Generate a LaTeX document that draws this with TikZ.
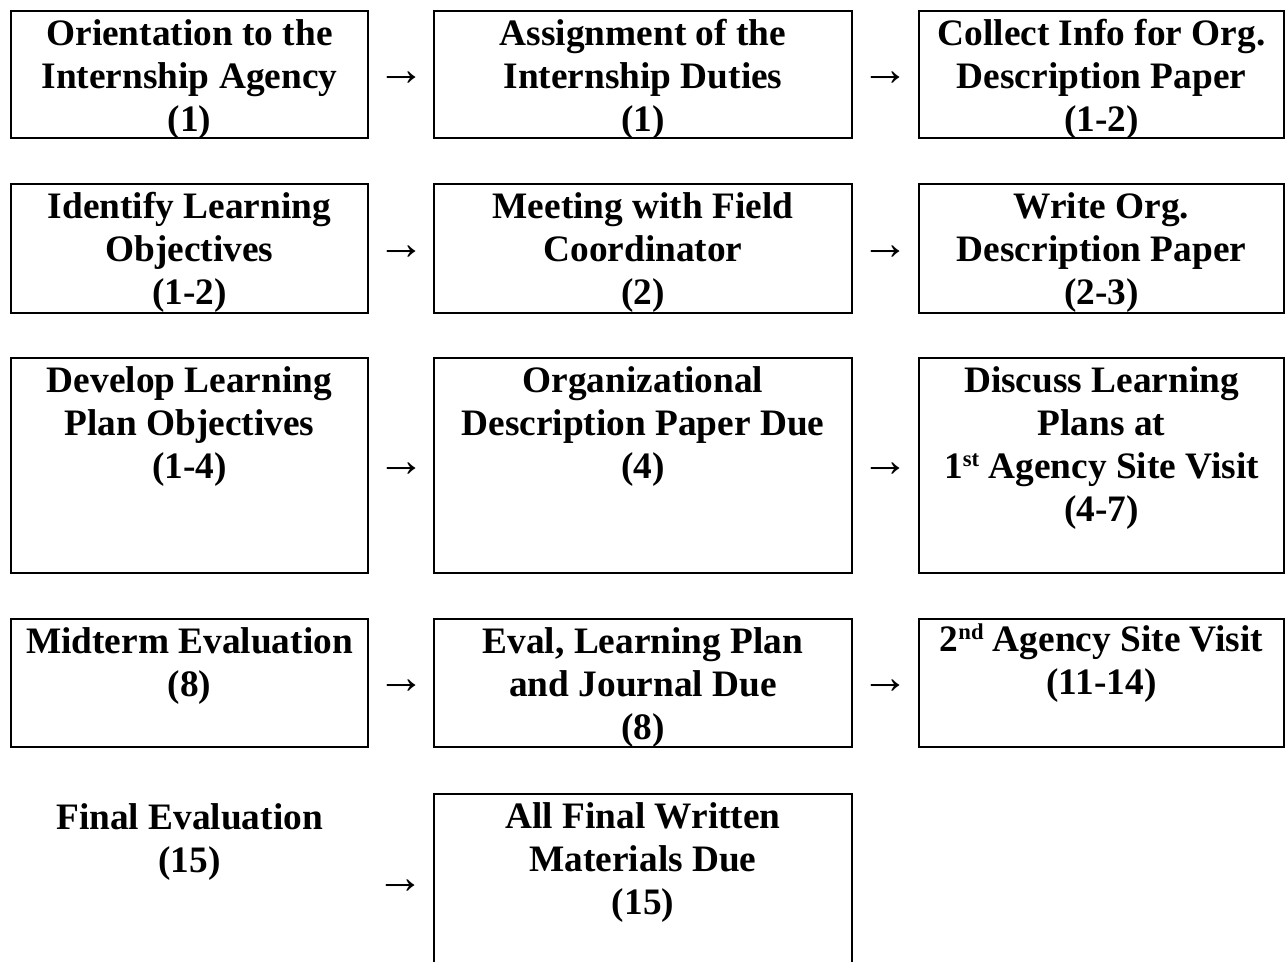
\documentclass[tikz,border=0pt]{standalone}
\usepackage{fontspec}
\setmainfont{Liberation Serif}
\usetikzlibrary{positioning,fit,calc}
\tikzset{box/.style = {draw, line width=1.5pt, inner sep=0pt}}
\newcommand{\ordsup}[1]{\raisebox{9pt}{\fontsize{17}{17}\selectfont #1}}

\begin{document}
\begin{tikzpicture}[x=0.75pt, y=-0.75pt,
    lbl/.style={align=center, inner sep=0pt, anchor=north, font=\fontsize{28}{32.25}\selectfont\bfseries},
    arr/.style={inner sep=0pt, yshift=-3pt, font=\fontsize{36}{36}\selectfont}]
\useasboundingbox (0,0) rectangle (1286,962);
% boxes
\node[box, fit={(11,11) (368,138)}] (b1) {};
\node[box, fit={(434,11) (852,138)}] (b2) {};
\node[box, fit={(919,11) (1284,138)}] (b3) {};
\node[box, fit={(11,184) (368,313)}] (b4) {};
\node[box, fit={(434,184) (852,313)}] (b5) {};
\node[box, fit={(919,184) (1284,313)}] (b6) {};
\node[box, fit={(11,358) (368,573)}] (b7) {};
\node[box, fit={(434,358) (852,573)}] (b8) {};
\node[box, fit={(919,358) (1284,573)}] (b9) {};
\node[box, fit={(11,619) (368,747)}] (b10) {};
\node[box, fit={(434,619) (852,747)}] (b11) {};
\node[box, fit={(919,619) (1284,747)}] (b12) {};
\node[box, fit={(434,794) (852,972)}] (b14) {};
% texts
\node[lbl] (t1) at ($(b1.north)+(0,9)$) {Orientation to the\\Internship Agency\\(1)};
\node[lbl] (t2) at ($(b2.north)+(0,9)$) {Assignment of the\\Internship Duties\\(1)};
\node[lbl] (t3) at ($(b3.north)+(0,9)$) {Collect Info for Org.\\Description Paper\\(1-2)};
\node[lbl] (t4) at ($(b4.north)+(0,9)$) {Identify Learning\\Objectives\\(1-2)};
\node[lbl] (t5) at ($(b5.north)+(0,9)$) {Meeting with Field\\Coordinator\\(2)};
\node[lbl] (t6) at ($(b6.north)+(0,9)$) {Write Org.\\Description Paper\\(2-3)};
\node[lbl] (t7) at ($(b7.north)+(0,9)$) {Develop Learning\\Plan Objectives\\(1-4)};
\node[lbl] (t8) at ($(b8.north)+(0,9)$) {Organizational\\Description Paper Due\\(4)};
\node[lbl] (t9) at ($(b9.north)+(0,9)$) {Discuss Learning\\Plans at\\1\ordsup{st} Agency Site Visit\\(4-7)};
\node[lbl] (t10) at ($(b10.north)+(0,9)$) {Midterm Evaluation\\(8)};
\node[lbl] (t11) at ($(b11.north)+(0,9)$) {Eval, Learning Plan\\and Journal Due\\(8)};
\node[lbl] (t12) at ($(b12.north)+(0,6)$) {2\ordsup{nd} Agency Site Visit\\(11-14)};
\node[lbl] (t13) at (189.5,803) {Final Evaluation\\(15)};
\node[lbl] (t14) at ($(b14.north)+(0,9)$) {All Final Written\\Materials Due\\(15)};
% arrows
\node[arr] (a1) at ($(b1.east)!.5!(b2.west)$) {→};
\node[arr] (a2) at ($(b2.east)!.5!(b3.west)$) {→};
\node[arr] (a3) at ($(b4.east)!.5!(b5.west)$) {→};
\node[arr] (a4) at ($(b5.east)!.5!(b6.west)$) {→};
\node[arr] (a5) at ($(b7.east)!.5!(b8.west)$) {→};
\node[arr] (a6) at ($(b8.east)!.5!(b9.west)$) {→};
\node[arr] (a7) at ($(b10.east)!.5!(b11.west)$) {→};
\node[arr] (a8) at ($(b11.east)!.5!(b12.west)$) {→};
\node[arr] (a9) at ($(b14.west)+(-33,0)$) {→};
\end{tikzpicture}
\end{document}
